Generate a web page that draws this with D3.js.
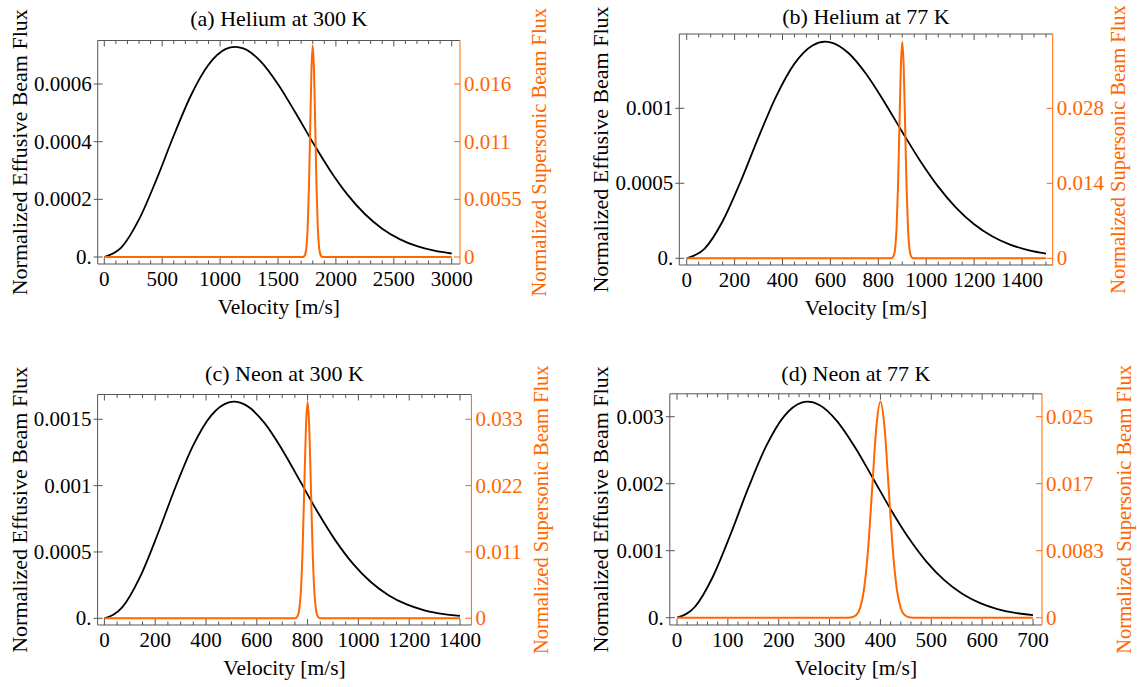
<!DOCTYPE html>
<html><head><meta charset="utf-8">
<script src="https://cdn.jsdelivr.net/npm/d3@7"></script>
<style>
body{margin:0;background:#fff}
svg{display:block}
svg text{font-family:"Liberation Serif","Noto Serif","DejaVu Serif","Times New Roman",serif;}
</style>
</head><body>
<svg id="chart" width="1137" height="687"></svg>
<script>
// ---------- DATA ----------
const titles = ["(a) Helium at 300 K", "(b) Helium at 77 K", "(c) Neon at 300 K", "(d) Neon at 77 K"];
const xLabel = "Velocity [m/s]";
const leftLabel = "Normalized Effusive Beam Flux";
const rightLabel = "Normalized Supersonic Beam Flux";

const xTicksA = [0, 500, 1000, 1500, 2000, 2500, 3000];
const xTicksB = [0, 200, 400, 600, 800, 1000, 1200, 1400];
const xTicksC = [0, 200, 400, 600, 800, 1000, 1200, 1400];
const xTicksD = [0, 100, 200, 300, 400, 500, 600, 700];
const xMaxA = 3000, xMaxB = 1500, xMaxC = 1400, xMaxD = 700;
const xMinorA = 100, xMinorB = 50, xMinorC = 50, xMinorD = 20;

const yTicksA = [0, 0.0002, 0.0004, 0.0006];
const yLabelsA = ["0.", "0.0002", "0.0004", "0.0006"];
const yTicksB = [0, 0.0005, 0.001];
const yLabelsB = ["0.", "0.0005", "0.001"];
const yTicksC = [0, 0.0005, 0.001, 0.0015];
const yLabelsC = ["0.", "0.0005", "0.001", "0.0015"];
const yTicksD = [0, 0.001, 0.002, 0.003];
const yLabelsD = ["0.", "0.001", "0.002", "0.003"];

const rTicksA = [0, 0.0055, 0.011, 0.0165];
const rLabelsA = ["0", "0.0055", "0.011", "0.016"];
const rTicksB = [0, 0.014, 0.028];
const rLabelsB = ["0", "0.014", "0.028"];
const rTicksC = [0, 0.011, 0.022, 0.033];
const rLabelsC = ["0", "0.011", "0.022", "0.033"];
const rTicksD = [0, 0.00833, 0.01667, 0.025];
const rLabelsD = ["0", "0.0083", "0.017", "0.025"];

const effusiveA = [[0,0],[150,0.0000343],[300,0.0001302],[450,0.0002682],[600,0.0004214],[750,0.0005619],[900,0.0006666],[1050,0.0007216],[1130,0.000729],[1200,0.0007235],[1350,0.0006787],[1500,0.0005995],[1650,0.0005010],[1800,0.0003976],[1950,0.0003004],[2100,0.0002165],[2250,0.0001491],[2400,0.0000982],[2550,0.0000620],[2700,0.0000375],[2850,0.0000218],[3000,0.0000121]];
const effusiveB = [[0,0],[75,0.0000650],[150,0.0002471],[225,0.0005112],[300,0.0008077],[375,0.0010846],[450,0.0012977],[525,0.0014191],[578,0.001444],[600,0.0014399],[675,0.0013688],[750,0.0012272],[825,0.0010426],[900,0.0008424],[975,0.0006490],[1050,0.0004777],[1125,0.0003366],[1200,0.0002272],[1275,0.0001472],[1350,0.0000915],[1425,0.0000547],[1500,0.0000314]];
const effusiveC = [[0,0],[70,0.0000821],[140,0.0003102],[210,0.0006353],[280,0.0009898],[350,0.0013054],[420,0.0015279],[490,0.0016279],[510,0.001633],[560,0.0016029],[630,0.0014727],[700,0.0012711],[770,0.0010355],[840,0.0007990],[910,0.0005855],[980,0.0004083],[1050,0.0002714],[1120,0.0001722],[1190,0.0001044],[1260,0.0000605],[1330,0.0000336],[1400,0.0000178]];
const effusiveD = [[0,0],[35,0.0001596],[70,0.0006037],[105,0.0012380],[140,0.0019329],[175,0.0025558],[210,0.0030012],[245,0.0032098],[257,0.003224],[280,0.0031742],[315,0.0029309],[350,0.0025438],[385,0.0020851],[420,0.0016197],[455,0.0011956],[490,0.0008404],[525,0.0005634],[560,0.0003607],[595,0.0002208],[630,0.0001293],[665,0.0000726],[700,0.0000390]];

const supersonicA = [[0,0],[1712,0.0000061],[1723,0.0000444],[1734,0.000224],[1745,0.000887],[1756,0.00273],[1767,0.00656],[1778,0.01225],[1789,0.01783],[1800,0.0202],[1811,0.01783],[1822,0.01225],[1833,0.00656],[1844,0.00273],[1855,0.000887],[1866,0.000224],[1877,0.0000444],[1888,0.0000061],[3000,0]];
const supersonicB = [[0,0],[852,0.0000121],[858,0.0000889],[864,0.000448],[870,0.00177],[876,0.00547],[882,0.01312],[888,0.0245],[894,0.03565],[900,0.0404],[906,0.03565],[912,0.0245],[918,0.01312],[924,0.00547],[930,0.00177],[936,0.000448],[942,0.0000889],[948,0.0000121],[1500,0]];
const supersonicC = [[0,0],[748,0.0000108],[754.5,0.000079],[761,0.000398],[767.5,0.00158],[774,0.00486],[780.5,0.01166],[787,0.02177],[793.5,0.03168],[800,0.0359],[806.5,0.03168],[813,0.02177],[819.5,0.01166],[826,0.00486],[832.5,0.00158],[839,0.000398],[845.5,0.000079],[852,0.0000108],[1400,0]];
const supersonicD = [[0,0],[336,0.0000081],[344,0.0000592],[352,0.000299],[360,0.00118],[368,0.00364],[376,0.00873],[384,0.01631],[392,0.02374],[400,0.0269],[408,0.02374],[416,0.01631],[424,0.00873],[432,0.00364],[440,0.00118],[448,0.000299],[456,0.0000592],[464,0.0000081],[700,0]];

// ---------- LAYOUT ----------
const ORANGE = "#ff6600";
const FRAME = "#555555";
const FS = 21;

const panels = [
  {title: titles[0], xMax: xMaxA, xTicks: xTicksA, xMinor: xMinorA, yTicks: yTicksA, yLabels: yLabelsA, rTicks: rTicksA, rLabels: rLabelsA, eff: effusiveA, sup: supersonicA,
   frame: {l: 97.7, t: 40.5, r: 460, b: 264}, xr: [104.3, 451.7], yr: [257, 84], titleY: 26, leftX: 27, rightX: 546},
  {title: titles[1], xMax: xMaxB, xTicks: xTicksB, xMinor: xMinorB, yTicks: yTicksB, yLabels: yLabelsB, rTicks: rTicksB, rLabels: rLabelsB, eff: effusiveB, sup: supersonicB,
   frame: {l: 679.3, t: 34, r: 1052.7, b: 265}, xr: [686.7, 1046], yr: [258.3, 108.3], titleY: 24, leftX: 607.5, rightX: 1125},
  {title: titles[2], xMax: xMaxC, xTicks: xTicksC, xMinor: xMinorC, yTicks: yTicksC, yLabels: yLabelsC, rTicks: rTicksC, rLabels: rLabelsC, eff: effusiveC, sup: supersonicC,
   frame: {l: 97.6, t: 394.5, r: 471.4, b: 625}, xr: [104.4, 460], yr: [618.3, 419.3], titleY: 381, leftX: 27, rightX: 548},
  {title: titles[3], xMax: xMaxD, xTicks: xTicksD, xMinor: xMinorD, yTicks: yTicksD, yLabels: yLabelsD, rTicks: rTicksD, rLabels: rLabelsD, eff: effusiveD, sup: supersonicD,
   frame: {l: 669.8, t: 393.8, r: 1042, b: 625}, xr: [677, 1033], yr: [617.7, 416.7], titleY: 381, leftX: 607.5, rightX: 1131}
];

const svg = d3.select("#chart");

panels.forEach((p, i) => {
  const f = p.frame;
  const g = svg.append("g");
  const x = d3.scaleLinear().domain([0, p.xMax]).range(p.xr);
  const y = d3.scaleLinear().domain([0, p.yTicks[p.yTicks.length - 1]]).range(p.yr);
  const yR = d3.scaleLinear().domain([0, p.rTicks[p.rTicks.length - 1]]).range(p.yr);

  const clipId = "clip" + i;
  g.append("clipPath").attr("id", clipId).append("rect")
    .attr("x", f.l).attr("y", f.t).attr("width", f.r - f.l).attr("height", f.b - f.t);

  g.append("line").attr("x1", f.l).attr("x2", f.r).attr("y1", f.b).attr("y2", f.b).attr("stroke", FRAME);
  g.append("line").attr("x1", f.l).attr("x2", f.r).attr("y1", f.t).attr("y2", f.t).attr("stroke", FRAME);
  g.append("line").attr("x1", f.l).attr("x2", f.l).attr("y1", f.t).attr("y2", f.b).attr("stroke", FRAME);
  g.append("line").attr("x1", f.r).attr("x2", f.r).attr("y1", f.t).attr("y2", f.b).attr("stroke", ORANGE);

  const minors = d3.range(0, p.xMax + 1e-9, p.xMinor).filter(v => !p.xTicks.includes(v));
  const tickG = g.append("g").attr("stroke", FRAME).attr("stroke-width", 1);
  p.xTicks.forEach(v => {
    tickG.append("line").attr("x1", x(v)).attr("x2", x(v)).attr("y1", f.b).attr("y2", f.b - 6);
    tickG.append("line").attr("x1", x(v)).attr("x2", x(v)).attr("y1", f.t).attr("y2", f.t + 6);
  });
  minors.forEach(v => {
    tickG.append("line").attr("x1", x(v)).attr("x2", x(v)).attr("y1", f.b).attr("y2", f.b - 3.5);
    tickG.append("line").attr("x1", x(v)).attr("x2", x(v)).attr("y1", f.t).attr("y2", f.t + 3.5);
  });
  g.selectAll(null).data(p.xTicks).enter().append("text")
    .attr("x", d => x(d)).attr("y", f.b + 21.5).attr("font-size", FS)
    .attr("text-anchor", "middle").attr("fill", "#000")
    .text(d => d3.format("d")(d));

  p.yTicks.forEach((v, k) => {
    tickG.append("line").attr("x1", f.l - 4).attr("x2", f.l + 5).attr("y1", y(v)).attr("y2", y(v));
    g.append("text").attr("x", f.l - 6).attr("y", y(v)).attr("dy", "0.33em").attr("font-size", FS)
      .attr("text-anchor", "end").attr("fill", "#000").text(p.yLabels[k]);
  });

  p.rTicks.forEach((v, k) => {
    g.append("line").attr("x1", f.r - 6).attr("x2", f.r).attr("y1", yR(v)).attr("y2", yR(v)).attr("stroke", ORANGE);
    g.append("text").attr("x", f.r + 4).attr("y", yR(v)).attr("dy", "0.33em").attr("font-size", FS)
      .attr("text-anchor", "start").attr("fill", ORANGE).text(p.rLabels[k]);
  });

  const lineL = d3.line().x(d => x(d[0])).y(d => y(d[1])).curve(d3.curveMonotoneX);
  const lineR = d3.line().x(d => x(d[0])).y(d => yR(d[1])).curve(d3.curveMonotoneX);
  const cg = g.append("g").attr("clip-path", `url(#${clipId})`);
  cg.append("path").datum(p.eff).attr("d", lineL).attr("fill", "none").attr("stroke", "#000").attr("stroke-width", 1.8);
  cg.append("path").datum(p.sup).attr("d", lineR).attr("fill", "none").attr("stroke", ORANGE).attr("stroke-width", 2);

  const cx = (f.l + f.r) / 2, cy = (f.t + f.b) / 2;
  g.append("text").attr("x", cx).attr("y", p.titleY).attr("font-size", 22).attr("text-anchor", "middle").text(p.title);
  g.append("text").attr("x", cx).attr("y", f.b + 50).attr("font-size", 21.5).attr("text-anchor", "middle").text(xLabel);
  g.append("text").attr("transform", `translate(${p.leftX},${cy}) rotate(-90)`).attr("font-size", 22).attr("text-anchor", "middle").text(leftLabel);
  g.append("text").attr("transform", `translate(${p.rightX},${cy}) rotate(-90)`).attr("font-size", 20.5).attr("text-anchor", "middle").attr("fill", ORANGE).text(rightLabel);
});
</script>
</body></html>
